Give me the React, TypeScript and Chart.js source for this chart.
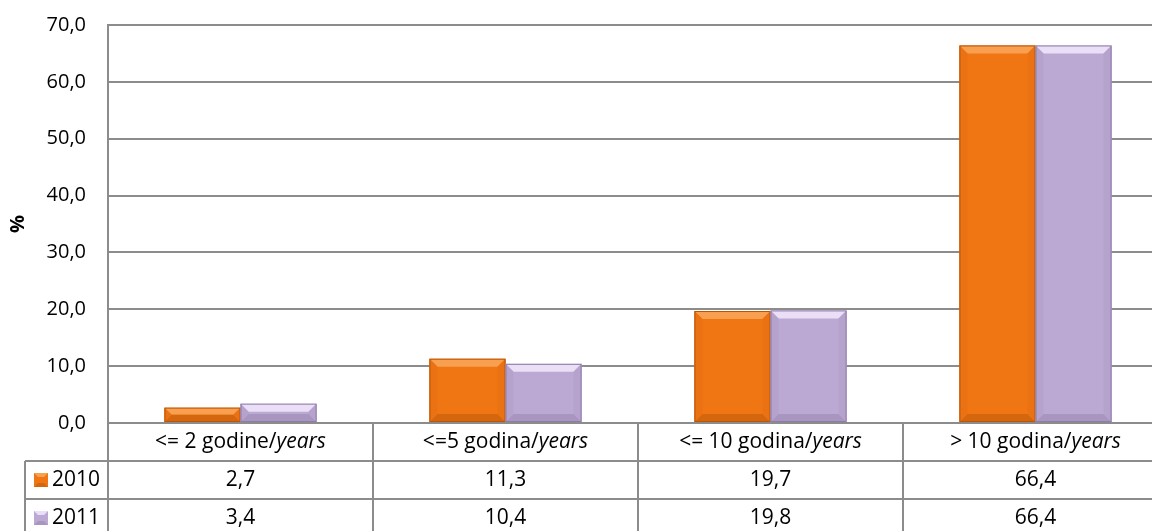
import React, { useEffect, useRef } from "react";
import { Chart, registerables } from "chart.js";

Chart.register(...registerables);

const categoryMain = ["<= 2 godine/", "<=5 godina/", "<= 10 godina/", "> 10 godina/"];
const categoryItalic = ["years", "years", "years", "years"];
const seriesNames = ["2010", "2011"];
const values2010 = [2.7, 11.3, 19.7, 66.4];
const values2011 = [3.4, 10.4, 19.8, 66.4];
const yTicks = [0, 10, 20, 30, 40, 50, 60, 70];

const FONT = "'Open Sans', 'Noto Sans', sans-serif";
const FS = 20;
const TFS = 21;
const LINE = "#8c8c8c";
const colors = [
  { main: "#F07613", light: "#F8A050", dark: "#D4670E", side: "#EA7213", border: "#B8570A" },
  { main: "#BBA9D3", light: "#EADFF7", dark: "#A895C0", side: "#B5A3CE", border: "#8E7CA8" },
];

const fmt = (v: number) => v.toFixed(1).replace(".", ",");

const bevelPlugin = {
  id: "bevel",
  afterDatasetsDraw(chart: any) {
    const ctx = chart.ctx;
    chart.data.datasets.forEach((_ds: any, di: number) => {
      const meta = chart.getDatasetMeta(di);
      const c = colors[di];
      meta.data.forEach((bar: any) => {
        const l = bar.x - bar.width / 2;
        const r = bar.x + bar.width / 2;
        const t = bar.y;
        const b = bar.base;
        const h = b - t;
        const bv = Math.min(8, h / 2);
        ctx.save();
        ctx.fillStyle = c.light;
        ctx.beginPath();
        ctx.moveTo(l, t); ctx.lineTo(r, t); ctx.lineTo(r - bv, t + bv); ctx.lineTo(l + bv, t + bv); ctx.closePath();
        ctx.fill();
        ctx.fillStyle = c.dark;
        ctx.beginPath();
        ctx.moveTo(l, b); ctx.lineTo(r, b); ctx.lineTo(r - bv, b - bv); ctx.lineTo(l + bv, b - bv); ctx.closePath();
        ctx.fill();
        ctx.fillStyle = c.side;
        ctx.beginPath();
        ctx.moveTo(l, t); ctx.lineTo(l + bv, t + bv); ctx.lineTo(l + bv, b - bv); ctx.lineTo(l, b); ctx.closePath();
        ctx.fill();
        ctx.beginPath();
        ctx.moveTo(r, t); ctx.lineTo(r - bv, t + bv); ctx.lineTo(r - bv, b - bv); ctx.lineTo(r, b); ctx.closePath();
        ctx.fill();
        ctx.strokeStyle = c.border;
        ctx.lineWidth = 1;
        ctx.strokeRect(l + 0.5, t + 0.5, r - l - 1, h - 1);
        ctx.restore();
      });
    });
  },
};

const tablePlugin = {
  id: "dataTable",
  afterDraw(chart: any) {
    const ctx = chart.ctx;
    const xs = chart.scales.x;
    const area = chart.chartArea;
    const H = chart.height;
    const W = chart.width;
    const rowH = 38;
    const top = area.bottom;
    const legendLeft = 25;
    const n = chart.data.labels.length;
    const step = (area.right - area.left) / n;
    ctx.save();
    ctx.strokeStyle = LINE;
    ctx.lineWidth = 2;
    ctx.beginPath();
    ctx.moveTo(area.left, top); ctx.lineTo(W, top);
    ctx.moveTo(legendLeft, top + rowH); ctx.lineTo(W, top + rowH);
    ctx.moveTo(legendLeft, top + 2 * rowH); ctx.lineTo(W, top + 2 * rowH);
    ctx.moveTo(legendLeft, top + rowH); ctx.lineTo(legendLeft, H);
    for (let i = 0; i <= n; i++) {
      const x = xs.getPixelForValue(i) - step / 2;
      ctx.moveTo(x, top); ctx.lineTo(x, H);
    }
    ctx.stroke();

    ctx.fillStyle = "#000";
    ctx.textBaseline = "middle";
    for (let i = 0; i < n; i++) {
      const cx = xs.getPixelForValue(i);
      const cy = top + rowH / 2;
      ctx.font = `${TFS}px ${FONT}`;
      const w1 = ctx.measureText(categoryMain[i]).width;
      ctx.font = `italic ${TFS}px ${FONT}`;
      const w2 = ctx.measureText(categoryItalic[i]).width;
      const x0 = cx - (w1 + w2) / 2;
      ctx.textAlign = "left";
      ctx.font = `${TFS}px ${FONT}`;
      ctx.fillText(categoryMain[i], x0, cy);
      ctx.font = `italic ${TFS}px ${FONT}`;
      ctx.fillText(categoryItalic[i], x0 + w1, cy);
    }
    const rows = [values2010, values2011];
    rows.forEach((vals, ri) => {
      const cy = top + rowH * (ri + 1) + rowH / 2;
      ctx.font = `${TFS}px ${FONT}`;
      ctx.textAlign = "center";
      ctx.fillStyle = "#000";
      vals.forEach((v, i) => {
        ctx.fillText(fmt(v), xs.getPixelForValue(i), cy);
      });
      const c = colors[ri];
      const kx = 34, ky = cy - 7, ks = 14;
      ctx.fillStyle = c.main;
      ctx.fillRect(kx, ky, ks, ks);
      ctx.fillStyle = c.light;
      ctx.beginPath();
      ctx.moveTo(kx, ky); ctx.lineTo(kx + ks, ky); ctx.lineTo(kx + ks - 4, ky + 4); ctx.lineTo(kx + 4, ky + 4); ctx.closePath();
      ctx.fill();
      ctx.fillStyle = c.dark;
      ctx.beginPath();
      ctx.moveTo(kx, ky + ks); ctx.lineTo(kx + ks, ky + ks); ctx.lineTo(kx + ks - 4, ky + ks - 4); ctx.lineTo(kx + 4, ky + ks - 4); ctx.closePath();
      ctx.fill();
      ctx.fillStyle = "#000";
      ctx.textAlign = "left";
      ctx.fillText(seriesNames[ri], 52, cy);
    });
    ctx.restore();
  },
};

export default function App() {
  const ref = useRef<HTMLCanvasElement>(null);
  useEffect(() => {
    document.body.style.margin = "0";
    const chart = new Chart(ref.current!, {
      type: "bar",
      data: {
        labels: categoryMain.map((m, i) => m + categoryItalic[i]),
        datasets: [
          { label: seriesNames[0], data: values2010, backgroundColor: colors[0].main, borderWidth: 0 },
          { label: seriesNames[1], data: values2011, backgroundColor: colors[1].main, borderWidth: 0 },
        ],
      },
      options: {
        responsive: false,
        animation: false,
        devicePixelRatio: 1,
        layout: { padding: { left: 0, right: 0, top: 25, bottom: 108 } },
        datasets: { bar: { categoryPercentage: 0.574, barPercentage: 1 } },
        plugins: { legend: { display: false }, tooltip: { enabled: false } },
        scales: {
          x: {
            ticks: { display: false },
            grid: { display: false, drawTicks: false },
            border: { display: false },
          },
          y: {
            min: 0,
            max: 70,
            afterFit: (s: any) => { s.width = 108; s.paddingTop = 0; s.paddingBottom = 0; },
            afterBuildTicks: (s: any) => { s.ticks = yTicks.map((v) => ({ value: v })); },
            ticks: {
              padding: 22,
              color: "#000",
              font: { family: FONT, size: FS },
              callback: (v: any) => fmt(Number(v)),
            },
            grid: { color: LINE, lineWidth: 2, drawTicks: false },
            border: { display: true, color: LINE, width: 2 },
            title: {
              display: true,
              text: "%",
              color: "#000",
              font: { family: FONT, size: FS, weight: "bold" },
              padding: { top: 6, bottom: 0 },
            },
          },
        },
      },
      plugins: [bevelPlugin, tablePlugin],
    } as any);
    return () => chart.destroy();
  }, []);
  return (
    <div style={{ position: "fixed", left: 0, top: 0, width: 1152, height: 531, overflow: "hidden", background: "#fff" }}>
      <canvas ref={ref} width={1168} height={531} style={{ width: 1168, height: 531, display: "block" }} />
    </div>
  );
}
